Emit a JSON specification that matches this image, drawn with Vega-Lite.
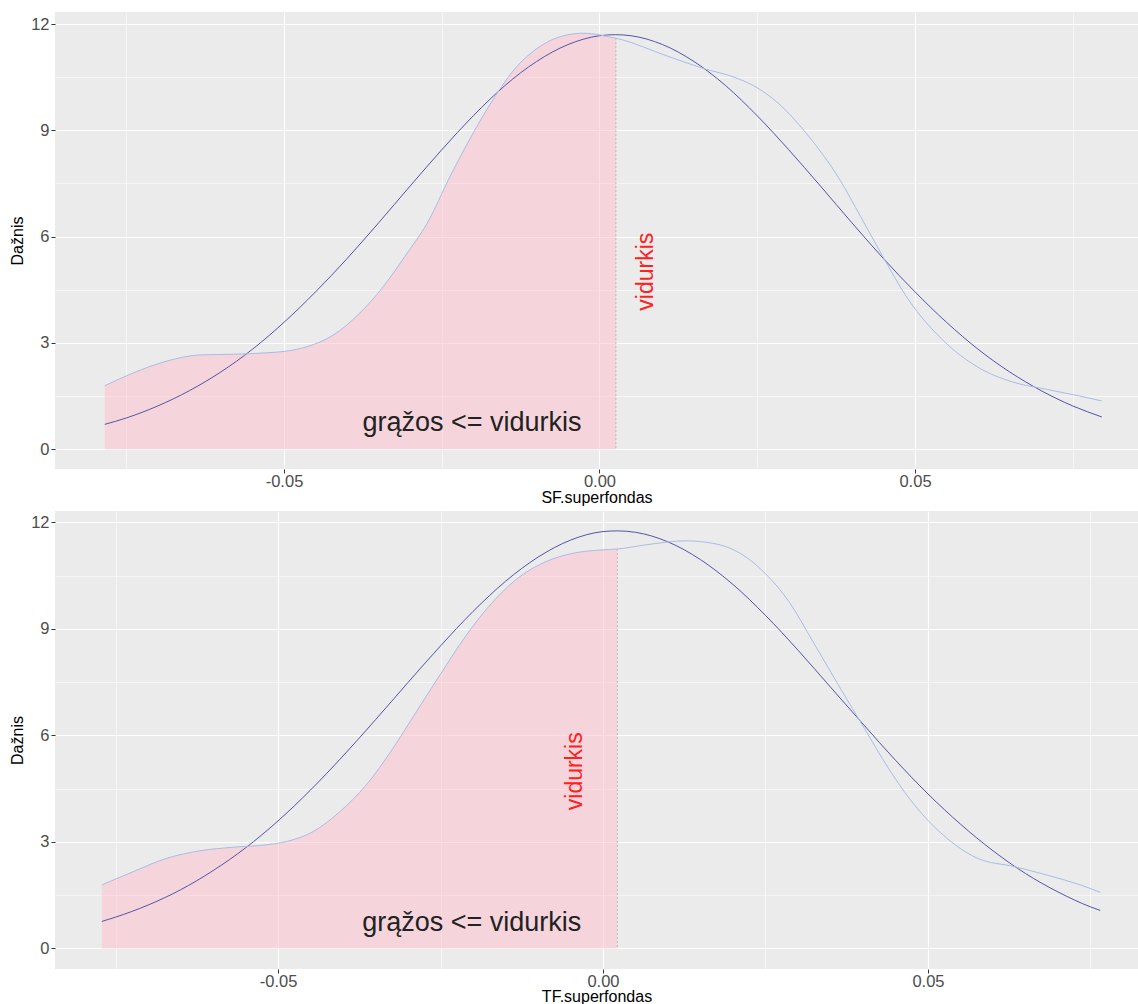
{
  "$schema": "https://vega.github.io/schema/vega-lite/v6.json",
  "padding": {"left": 9, "top": 12, "right": 0, "bottom": 0},
  "spacing": 6,
  "config": {
    "view": {"fill": "#EBEBEB", "stroke": null},
    "font": "Liberation Sans",
    "axis": {
      "domain": false,
      "grid": true,
      "gridColor": "#FFFFFF",
      "tickColor": "#333333",
      "tickSize": 4,
      "tickWidth": 1,
      "labelColor": "#4D4D4D",
      "labelFontSize": 16.5,
      "titleColor": "#000000",
      "titleFontSize": 16,
      "titleFontWeight": "normal"
    }
  },
  "datasets": {
    "sf_kde": [
      {"x": -0.0784, "y": 1.79}, {"x": -0.0739, "y": 2.15}, {"x": -0.0685, "y": 2.49}, {"x": -0.0633, "y": 2.66},
      {"x": -0.058, "y": 2.68}, {"x": -0.0527, "y": 2.72}, {"x": -0.0495, "y": 2.77}, {"x": -0.0464, "y": 2.89},
      {"x": -0.0422, "y": 3.22}, {"x": -0.038, "y": 3.84}, {"x": -0.0343, "y": 4.58}, {"x": -0.0305, "y": 5.53},
      {"x": -0.0273, "y": 6.38}, {"x": -0.0237, "y": 7.69}, {"x": -0.02, "y": 8.93}, {"x": -0.0169, "y": 9.86},
      {"x": -0.0131, "y": 10.8}, {"x": -0.0095, "y": 11.36}, {"x": -0.0052, "y": 11.69}, {"x": -0.0026, "y": 11.74},
      {"x": 0.0001, "y": 11.69}, {"x": 0.0012, "y": 11.65}, {"x": 0.0026, "y": 11.6}, {"x": 0.011, "y": 11.08},
      {"x": 0.0164, "y": 10.75}, {"x": 0.0218, "y": 10.47}, {"x": 0.0251, "y": 10.19}, {"x": 0.0283, "y": 9.77},
      {"x": 0.0327, "y": 8.93}, {"x": 0.0381, "y": 7.6}, {"x": 0.0414, "y": 6.56}, {"x": 0.0446, "y": 5.53},
      {"x": 0.049, "y": 4.21}, {"x": 0.0544, "y": 3.08}, {"x": 0.0599, "y": 2.32}, {"x": 0.0654, "y": 1.9},
      {"x": 0.0708, "y": 1.69}, {"x": 0.0761, "y": 1.5}, {"x": 0.0796, "y": 1.36}
    ],
    "sf_norm": [
      {"x": -0.0784, "y": 0.7}, {"x": -0.075, "y": 0.88}, {"x": -0.07, "y": 1.22}, {"x": -0.065, "y": 1.65},
      {"x": -0.06, "y": 2.18}, {"x": -0.055, "y": 2.82}, {"x": -0.05, "y": 3.58}, {"x": -0.045, "y": 4.44},
      {"x": -0.04, "y": 5.38}, {"x": -0.035, "y": 6.39}, {"x": -0.03, "y": 7.43}, {"x": -0.025, "y": 8.45},
      {"x": -0.02, "y": 9.41}, {"x": -0.015, "y": 10.26}, {"x": -0.01, "y": 10.94}, {"x": -0.005, "y": 11.42},
      {"x": 0.0, "y": 11.67}, {"x": 0.0025, "y": 11.7}, {"x": 0.005, "y": 11.67}, {"x": 0.01, "y": 11.42},
      {"x": 0.015, "y": 10.94}, {"x": 0.02, "y": 10.26}, {"x": 0.025, "y": 9.41}, {"x": 0.03, "y": 8.45},
      {"x": 0.035, "y": 7.43}, {"x": 0.04, "y": 6.39}, {"x": 0.045, "y": 5.38}, {"x": 0.05, "y": 4.44},
      {"x": 0.055, "y": 3.58}, {"x": 0.06, "y": 2.82}, {"x": 0.065, "y": 2.18}, {"x": 0.07, "y": 1.65},
      {"x": 0.075, "y": 1.22}, {"x": 0.0796, "y": 0.91}
    ],
    "sf_mean": [{"x": 0.0026, "y": 11.6}],
    "sf_red": [{"x": 0.0085, "y": 5.01, "label": "vidurkis"}],
    "sf_black": [{"x": -0.0202, "y": 0.5, "label": "grąžos <= vidurkis"}],
    "tf_kde": [
      {"x": -0.0771, "y": 1.79}, {"x": -0.0723, "y": 2.16}, {"x": -0.0671, "y": 2.54}, {"x": -0.062, "y": 2.75},
      {"x": -0.0569, "y": 2.85}, {"x": -0.0517, "y": 2.92}, {"x": -0.0487, "y": 3.01}, {"x": -0.0446, "y": 3.29},
      {"x": -0.0405, "y": 3.85}, {"x": -0.0364, "y": 4.61}, {"x": -0.0323, "y": 5.64}, {"x": -0.0287, "y": 6.67},
      {"x": -0.0251, "y": 7.7}, {"x": -0.021, "y": 8.83}, {"x": -0.0169, "y": 9.77}, {"x": -0.0128, "y": 10.47},
      {"x": -0.0087, "y": 10.9}, {"x": -0.0046, "y": 11.13}, {"x": -0.0005, "y": 11.22}, {"x": 0.0022, "y": 11.25},
      {"x": 0.0075, "y": 11.39}, {"x": 0.0127, "y": 11.48}, {"x": 0.0169, "y": 11.41}, {"x": 0.0206, "y": 11.18},
      {"x": 0.0249, "y": 10.57}, {"x": 0.0286, "y": 9.77}, {"x": 0.0323, "y": 8.64}, {"x": 0.0365, "y": 7.33},
      {"x": 0.0402, "y": 6.2}, {"x": 0.0439, "y": 5.08}, {"x": 0.0471, "y": 4.23}, {"x": 0.0523, "y": 3.2},
      {"x": 0.0576, "y": 2.54}, {"x": 0.0634, "y": 2.3}, {"x": 0.0682, "y": 2.07}, {"x": 0.0734, "y": 1.79},
      {"x": 0.0765, "y": 1.58}
    ],
    "tf_norm": [
      {"x": -0.0771, "y": 0.76}, {"x": -0.075, "y": 0.88}, {"x": -0.07, "y": 1.22}, {"x": -0.065, "y": 1.65},
      {"x": -0.06, "y": 2.19}, {"x": -0.055, "y": 2.83}, {"x": -0.05, "y": 3.59}, {"x": -0.045, "y": 4.46},
      {"x": -0.04, "y": 5.42}, {"x": -0.035, "y": 6.44}, {"x": -0.03, "y": 7.49}, {"x": -0.025, "y": 8.52},
      {"x": -0.02, "y": 9.49}, {"x": -0.015, "y": 10.34}, {"x": -0.01, "y": 11.02}, {"x": -0.005, "y": 11.5},
      {"x": 0.0, "y": 11.74}, {"x": 0.0022, "y": 11.76}, {"x": 0.005, "y": 11.72}, {"x": 0.01, "y": 11.45},
      {"x": 0.015, "y": 10.95}, {"x": 0.02, "y": 10.25}, {"x": 0.025, "y": 9.38}, {"x": 0.03, "y": 8.4},
      {"x": 0.035, "y": 7.36}, {"x": 0.04, "y": 6.32}, {"x": 0.045, "y": 5.3}, {"x": 0.05, "y": 4.35},
      {"x": 0.055, "y": 3.5}, {"x": 0.06, "y": 2.75}, {"x": 0.065, "y": 2.11}, {"x": 0.07, "y": 1.59},
      {"x": 0.075, "y": 1.17}, {"x": 0.0765, "y": 1.07}
    ],
    "tf_mean": [{"x": 0.0022, "y": 11.25}],
    "tf_red": [{"x": -0.0033, "y": 4.99, "label": "vidurkis"}],
    "tf_black": [{"x": -0.0202, "y": 0.5, "label": "grąžos <= vidurkis"}]
  },
  "vconcat": [
    {
      "width": 1083,
      "height": 457,
      "layer": [
        {
          "data": {"name": "sf_kde"},
          "transform": [{"filter": "datum.x <= 0.0026"}],
          "mark": {"type": "area", "interpolate": "monotone", "fill": "pink", "fillOpacity": 0.5},
          "encoding": {
            "x": {
              "field": "x", "type": "quantitative", "title": "SF.superfondas",
              "scale": {"domain": [-0.08629, 0.08534], "nice": false, "zero": false},
              "axis": {
                "values": [-0.075, -0.05, -0.025, 0, 0.025, 0.05, 0.075],
                "labelExpr": "datum.value == -0.05 ? '-0.05' : datum.value == 0 ? '0.00' : datum.value == 0.05 ? '0.05' : ''",
                "gridWidth": {"condition": {"test": "abs(datum.value) == 0.025 || abs(datum.value) == 0.075", "value": 0.55}, "value": 1.1},
                "tickOpacity": {"condition": {"test": "abs(datum.value) == 0.025 || abs(datum.value) == 0.075", "value": 0}, "value": 1},
                "labelPadding": 0,
                "titleY": 20,
                "titleBaseline": "top"
              }
            },
            "y": {
              "field": "y", "type": "quantitative", "title": "Dažnis",
              "scale": {"domain": [-0.56, 12.34], "nice": false, "zero": false},
              "axis": {
                "values": [0, 1.5, 3, 4.5, 6, 7.5, 9, 10.5, 12],
                "labelExpr": "datum.value % 3 == 0 ? datum.label : ''",
                "gridWidth": {"condition": {"test": "datum.value % 3 != 0", "value": 0.55}, "value": 1.1},
                "tickOpacity": {"condition": {"test": "datum.value % 3 != 0", "value": 0}, "value": 1},
                "labelPadding": 2,
                "titlePadding": 5
              }
            },
            "y2": {"datum": 0}
          }
        },
        {
          "data": {"name": "sf_mean"},
          "mark": {"type": "rule", "strokeDash": [2, 2], "color": "#D2AEB9", "strokeWidth": 1},
          "encoding": {
            "x": {"field": "x", "type": "quantitative"},
            "y": {"field": "y", "type": "quantitative"},
            "y2": {"datum": 0}
          }
        },
        {
          "data": {"name": "sf_norm"},
          "mark": {"type": "line", "interpolate": "monotone", "color": "#5454A8", "strokeWidth": 1},
          "encoding": {
            "x": {"field": "x", "type": "quantitative"},
            "y": {"field": "y", "type": "quantitative"}
          }
        },
        {
          "data": {"name": "sf_kde"},
          "mark": {"type": "line", "interpolate": "monotone", "color": "#A9BCE6", "strokeWidth": 1},
          "encoding": {
            "x": {"field": "x", "type": "quantitative"},
            "y": {"field": "y", "type": "quantitative"}
          }
        },
        {
          "data": {"name": "sf_red"},
          "mark": {"type": "text", "angle": 270, "color": "#FF2020", "fontSize": 23, "align": "center", "baseline": "alphabetic"},
          "encoding": {
            "x": {"field": "x", "type": "quantitative"},
            "y": {"field": "y", "type": "quantitative"},
            "text": {"field": "label"}
          }
        },
        {
          "data": {"name": "sf_black"},
          "mark": {"type": "text", "color": "#222222", "fontSize": 27, "align": "center", "baseline": "alphabetic"},
          "encoding": {
            "x": {"field": "x", "type": "quantitative"},
            "y": {"field": "y", "type": "quantitative"},
            "text": {"field": "label"}
          }
        }
      ]
    },
    {
      "width": 1083,
      "height": 458,
      "layer": [
        {
          "data": {"name": "tf_kde"},
          "transform": [{"filter": "datum.x <= 0.0022"}],
          "mark": {"type": "area", "interpolate": "monotone", "fill": "pink", "fillOpacity": 0.5},
          "encoding": {
            "x": {
              "field": "x", "type": "quantitative", "title": "TF.superfondas",
              "scale": {"domain": [-0.08431, 0.08231], "nice": false, "zero": false},
              "axis": {
                "values": [-0.075, -0.05, -0.025, 0, 0.025, 0.05, 0.075],
                "labelExpr": "datum.value == -0.05 ? '-0.05' : datum.value == 0 ? '0.00' : datum.value == 0.05 ? '0.05' : ''",
                "gridWidth": {"condition": {"test": "abs(datum.value) == 0.025 || abs(datum.value) == 0.075", "value": 0.55}, "value": 1.1},
                "tickOpacity": {"condition": {"test": "abs(datum.value) == 0.025 || abs(datum.value) == 0.075", "value": 0}, "value": 1},
                "labelPadding": 0,
                "titleY": 19,
                "titleBaseline": "top"
              }
            },
            "y": {
              "field": "y", "type": "quantitative", "title": "Dažnis",
              "scale": {"domain": [-0.58, 12.32], "nice": false, "zero": false},
              "axis": {
                "values": [0, 1.5, 3, 4.5, 6, 7.5, 9, 10.5, 12],
                "labelExpr": "datum.value % 3 == 0 ? datum.label : ''",
                "gridWidth": {"condition": {"test": "datum.value % 3 != 0", "value": 0.55}, "value": 1.1},
                "tickOpacity": {"condition": {"test": "datum.value % 3 != 0", "value": 0}, "value": 1},
                "labelPadding": 2,
                "titlePadding": 5
              }
            },
            "y2": {"datum": 0}
          }
        },
        {
          "data": {"name": "tf_mean"},
          "mark": {"type": "rule", "strokeDash": [2, 2], "color": "#D2AEB9", "strokeWidth": 1},
          "encoding": {
            "x": {"field": "x", "type": "quantitative"},
            "y": {"field": "y", "type": "quantitative"},
            "y2": {"datum": 0}
          }
        },
        {
          "data": {"name": "tf_norm"},
          "mark": {"type": "line", "interpolate": "monotone", "color": "#5454A8", "strokeWidth": 1},
          "encoding": {
            "x": {"field": "x", "type": "quantitative"},
            "y": {"field": "y", "type": "quantitative"}
          }
        },
        {
          "data": {"name": "tf_kde"},
          "mark": {"type": "line", "interpolate": "monotone", "color": "#A9BCE6", "strokeWidth": 1},
          "encoding": {
            "x": {"field": "x", "type": "quantitative"},
            "y": {"field": "y", "type": "quantitative"}
          }
        },
        {
          "data": {"name": "tf_red"},
          "mark": {"type": "text", "angle": 270, "color": "#FF2020", "fontSize": 23, "align": "center", "baseline": "alphabetic"},
          "encoding": {
            "x": {"field": "x", "type": "quantitative"},
            "y": {"field": "y", "type": "quantitative"},
            "text": {"field": "label"}
          }
        },
        {
          "data": {"name": "tf_black"},
          "mark": {"type": "text", "color": "#222222", "fontSize": 27, "align": "center", "baseline": "alphabetic"},
          "encoding": {
            "x": {"field": "x", "type": "quantitative"},
            "y": {"field": "y", "type": "quantitative"},
            "text": {"field": "label"}
          }
        }
      ]
    }
  ]
}
